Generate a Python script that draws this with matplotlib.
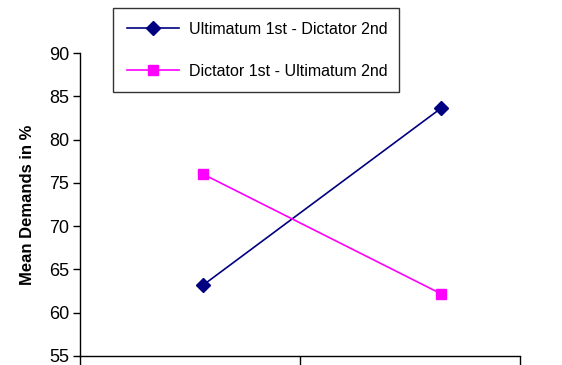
import numpy as np
import matplotlib.pyplot as plt

plt.rcParams['font.family'] = ['Liberation Sans', 'DejaVu Sans']

# Data
conditions = ["Game 1", "Game 2"]
ult_first = [63.2, 83.6]     # Ultimatum 1st - Dictator 2nd
dic_first = [76.0, 62.2]     # Dictator 1st - Ultimatum 2nd

W, H = 562, 365
fig = plt.figure(figsize=(W / 100, H / 100), dpi=100)
ax = fig.add_axes([80 / W, 1 - 356 / H, 440 / W, 303 / H])

xpos = np.arange(len(conditions)) + 0.5
shift = np.array([0.06, 0.14])
xs = xpos + shift

ax.plot(xs, ult_first, color='#000080', marker='D', markersize=7, lw=1.2,
        label='Ultimatum 1st - Dictator 2nd')
ax.plot(xs, dic_first, color='#FF00FF', marker='s', markersize=7, lw=1.2,
        label='Dictator 1st - Ultimatum 2nd')

ax.set_xlim(0, 2)
ax.set_ylim(55, 90)
ax.set_yticks(np.arange(55, 91, 5))
ax.set_xticks([0, 1, 2])
ax.set_xticklabels([])
ax.tick_params(axis='y', direction='out', length=5, width=1, labelsize=13, pad=3)
ax.tick_params(axis='x', direction='out', length=9, width=1)
ax.spines['top'].set_visible(False)
ax.spines['right'].set_visible(False)
for s in ('left', 'bottom'):
    ax.spines[s].set_linewidth(1)
ax.set_ylabel('Mean Demands in %', fontsize=12, fontweight='bold', labelpad=10)

leg = ax.legend(loc='upper left', bbox_to_anchor=(113 / W, 1 - 92 / H, 286 / W, 84 / H),
                bbox_transform=fig.transFigure, mode='expand', fontsize=11.5,
                frameon=True, fancybox=False, edgecolor='black', borderaxespad=0,
                handlelength=3.3, labelspacing=1.7, borderpad=0.85, handletextpad=0.6)
leg.get_frame().set_linewidth(1)

fig.savefig('out.png', dpi=100)
